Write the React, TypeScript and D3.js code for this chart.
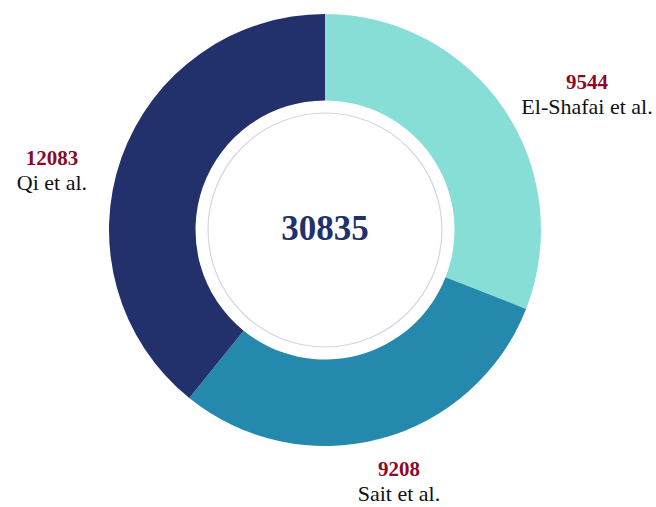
import React from "react";
import * as d3 from "d3";

const categories = ["El-Shafai et al.", "Sait et al.", "Qi et al."];
const values = [9544, 9208, 12083];
const colors = ["#87DED6", "#2589AE", "#22306B"];
const total = 30835;

// label layout (center x, baseline y of value line)
const labelLayout = [
  { x: 587, y: 89 },
  { x: 399, y: 476 },
  { x: 52, y: 165 },
];

const W = 656;
const H = 507;
const cx = 325;
const cy = 230;
const outerR = 216;
const innerR = 129.5;
const ringR = 117;

export default function App() {
  const data = categories.map((c, i) => ({ name: c, value: values[i], color: colors[i] }));
  const pie = d3
    .pie<any>()
    .sort(null)
    .value((d: any) => d.value)
    .startAngle(0)
    .endAngle(2 * Math.PI);
  const arcs = pie(data);
  const arc = d3.arc<any>().innerRadius(innerR).outerRadius(outerR);

  return (
    <svg
      width={W}
      height={H}
      style={{ position: "absolute", left: 0, top: 0, background: "#fff" }}
    >
      <g transform={`translate(${cx},${cy})`}>
        {arcs.map((a, i) => (
          <path key={i} d={arc(a) as string} fill={a.data.color} />
        ))}
        <circle r={ringR} fill="none" stroke="#D3D6E6" strokeWidth={1.2} />
        <text
          x={0}
          y={10}
          textAnchor="middle"
          fontFamily="'Liberation Serif', serif"
          fontWeight="bold"
          fontSize={35}
          fill="#22306B"
        >
          {total}
        </text>
      </g>
      {arcs.map((a, i) => (
        <g key={"l" + i}>
          <text
            x={labelLayout[i].x}
            y={labelLayout[i].y}
            textAnchor="middle"
            fontFamily="'Liberation Serif', serif"
            fontWeight="bold"
            fontSize={21}
            fill="#8B0A2A"
          >
            {a.data.value}
          </text>
          <text
            x={labelLayout[i].x}
            y={labelLayout[i].y + 25}
            textAnchor="middle"
            fontFamily="'Liberation Serif', serif"
            fontSize={22}
            fill="#111"
          >
            {a.data.name}
          </text>
        </g>
      ))}
    </svg>
  );
}
